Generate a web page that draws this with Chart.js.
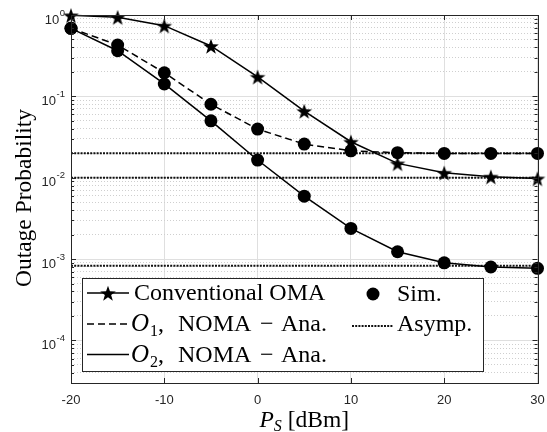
<!DOCTYPE html>
<html lang="en">
<head>
    <meta charset="UTF-8">
    <title>Outage Probability</title>
    <style>
        html, body {
            margin: 0;
            padding: 0;
            background: #fff;
        }
        #chart {
            width: 547px;
            height: 432px;
        }
    </style>
</head>
<body>
<div id="chart">
    <canvas id="myChart" width="547" height="432"></canvas>
</div>

<script src="https://cdn.jsdelivr.net/npm/chart.js"></script>
<script type="text/javascript">
    // P_S in dBm
    var psValues = [-20, -15, -10, -5, 0, 5, 10, 15, 20, 25, 30];
    // outage probabilities
    var omaValues   = [0.99, 0.94, 0.74, 0.416, 0.174, 0.066, 0.0277, 0.015, 0.0115, 0.0103, 0.0098];
    var noma1Values = [0.686, 0.428, 0.195, 0.080, 0.0396, 0.0259, 0.0214, 0.0203, 0.0199, 0.0199, 0.0199];
    var noma2Values = [0.686, 0.364, 0.142, 0.050, 0.0165, 0.00594, 0.00238, 0.00123, 0.0009, 0.0008, 0.00077];
    var asympValues = [0.02, 0.01, 0.00083];
    var xTicks = [-20, -10, 0, 10, 20, 30];
    var yDecades = [0, -1, -2, -3, -4];
    var yMin = 3e-5, yMax = 1;

    var BLACK = '#000';
    var AXIS = '#262626';

    // filled five point star for the OMA markers
    function makeStar(size, outer, inner) {
        var c = document.createElement('canvas');
        c.width = size;
        c.height = size;
        var g = c.getContext('2d');
        g.fillStyle = BLACK;
        g.beginPath();
        for (var i = 0; i < 10; i++) {
            var r = i % 2 === 0 ? outer : inner;
            var a = -Math.PI / 2 + i * Math.PI / 5;
            var px = size / 2 + r * Math.cos(a);
            var py = size / 2 + 1 + r * Math.sin(a);
            if (i === 0) g.moveTo(px, py); else g.lineTo(px, py);
        }
        g.closePath();
        g.fill();
        return c;
    }
    var star = makeStar(18, 8.2, 3.3);

    function pts(values) {
        return psValues.map(function(x, i) { return {x: x, y: values[i]}; });
    }
    function flat(v) {
        return [{x: psValues[0], y: v}, {x: psValues[psValues.length - 1], y: v}];
    }

    var datasets = [
        { label: 'Sim. O1', data: pts(noma1Values), showLine: false, pointRadius: 6.5,
          pointBackgroundColor: BLACK, pointBorderWidth: 0, clip: false },
        { label: 'Sim. O2', data: pts(noma2Values), showLine: false, pointRadius: 6.5,
          pointBackgroundColor: BLACK, pointBorderWidth: 0, clip: false },
        { label: 'Conventional OMA', data: pts(omaValues), borderColor: BLACK, borderWidth: 1.5,
          pointStyle: star, pointRadius: 8, clip: false },
        { label: 'O1 Ana', data: pts(noma1Values), borderColor: BLACK, borderWidth: 1.5,
          borderDash: [7, 4], pointRadius: 0, clip: false },
        { label: 'O2 Ana', data: pts(noma2Values), borderColor: BLACK, borderWidth: 1.5,
          pointRadius: 0, clip: false }
    ];
    asympValues.forEach(function(v) {
        datasets.push({ label: 'Asymp.', data: flat(v), borderColor: '#111', borderWidth: 2,
                        borderDash: [2, 1.2], pointRadius: 0, clip: false });
    });

    // draw text pieces one after another: [text, font, dy]
    function drawRich(ctx, parts, x, y) {
        parts.forEach(function(p) {
            ctx.font = p[1];
            ctx.fillText(p[0], x, y + (p[2] || 0));
            x += ctx.measureText(p[0]).width;
        });
        return x;
    }

    var SERIF = '"Liberation Serif", "DejaVu Serif", serif';
    var SANS = '"Liberation Sans", Arial, sans-serif';

    var matlabBox = {
        id: 'matlabBox',
        afterDraw: function(chart) {
            var ctx = chart.ctx;
            var a = chart.chartArea;
            var xs = chart.scales.x, ys = chart.scales.y;
            ctx.save();

            // axes box
            ctx.strokeStyle = AXIS;
            ctx.lineWidth = 1;
            ctx.strokeRect(Math.round(a.left) + 0.5, Math.round(a.top) + 0.5,
                           Math.round(a.right - a.left), Math.round(a.bottom - a.top));

            // inward ticks
            ctx.beginPath();
            xTicks.forEach(function(v) {
                var px = Math.round(xs.getPixelForValue(v)) + 0.5;
                ctx.moveTo(px, a.bottom); ctx.lineTo(px, a.bottom - 5);
                ctx.moveTo(px, a.top); ctx.lineTo(px, a.top + 5);
            });
            ys.ticks.forEach(function(t) {
                var py = Math.round(ys.getPixelForValue(t.value)) + 0.5;
                var len = t.major ? 5 : 3;
                ctx.moveTo(a.left, py); ctx.lineTo(a.left + len, py);
                ctx.moveTo(a.right, py); ctx.lineTo(a.right - len, py);
            });
            ctx.stroke();

            // tick labels
            ctx.fillStyle = AXIS;
            ctx.textBaseline = 'middle';
            ctx.textAlign = 'center';
            ctx.font = '13px ' + SANS;
            xTicks.forEach(function(v) {
                ctx.fillText(String(v), xs.getPixelForValue(v), a.bottom + 17);
            });
            ctx.textAlign = 'right';
            yDecades.forEach(function(e) {
                var py = ys.getPixelForValue(Math.pow(10, e));
                var sup = String(e);
                ctx.font = '9.5px ' + SANS;
                var supW = ctx.measureText(sup).width;
                ctx.fillText(sup, a.left - 6, py - 2);
                ctx.font = '13px ' + SANS;
                ctx.fillText('10', a.left - 6 - supW - 0.5, py + 5);
            });

            // axis titles
            ctx.fillStyle = BLACK;
            ctx.textBaseline = 'alphabetic';
            ctx.textAlign = 'center';
            ctx.save();
            ctx.translate(31, (a.top + a.bottom) / 2 - 1);
            ctx.rotate(-Math.PI / 2);
            ctx.font = '23.5px ' + SERIF;
            ctx.fillText('Outage Probability', 0, 0);
            ctx.restore();

            ctx.textAlign = 'left';
            var xParts = [['P', 'italic 23.5px ' + SERIF], ['S', 'italic 16px ' + SERIF, 4],
                          [' [dBm]', '23.5px ' + SERIF]];
            var w = 0;
            xParts.forEach(function(p) { ctx.font = p[1]; w += ctx.measureText(p[0]).width; });
            drawRich(ctx, xParts, (a.left + a.right) / 2 - w / 2, 427);

            // legend
            var L = 82, T = 278, R = 483, B = 371;
            ctx.fillStyle = '#fff';
            ctx.fillRect(L, T, R - L, B - T);
            ctx.strokeStyle = AXIS;
            ctx.strokeRect(L + 0.5, T + 0.5, R - L, B - T);

            ctx.strokeStyle = BLACK;
            ctx.fillStyle = BLACK;
            ctx.lineWidth = 1.5;
            // row 1: OMA
            ctx.beginPath(); ctx.moveTo(87, 293); ctx.lineTo(129, 293); ctx.stroke();
            ctx.drawImage(star, 108 - 9, 293 - 9);
            ctx.font = '24px ' + SERIF;
            ctx.fillText('Conventional OMA', 134, 300);
            // row 2: O1 dashed
            ctx.setLineDash([7, 4]);
            ctx.beginPath(); ctx.moveTo(87, 324); ctx.lineTo(129, 324); ctx.stroke();
            ctx.setLineDash([]);
            var rowParts = function(n) {
                return [['O', 'italic 25px ' + SERIF], [' ', '4px ' + SERIF], [n, '16px ' + SERIF, 5],
                        [',', '24px ' + SERIF]];
            };
            drawRich(ctx, rowParts('1'), 131, 331);
            ctx.font = '24px ' + SERIF;
            ctx.fillText('NOMA', 178, 331);
            ctx.fillText('\u2212', 260, 331);
            ctx.fillText('Ana.', 281, 331);
            // row 3: O2 solid
            ctx.beginPath(); ctx.moveTo(87, 354.5); ctx.lineTo(129, 354.5); ctx.stroke();
            drawRich(ctx, rowParts('2'), 131, 361.5);
            ctx.font = '24px ' + SERIF;
            ctx.fillText('NOMA', 178, 361.5);
            ctx.fillText('\u2212', 260, 361.5);
            ctx.fillText('Ana.', 281, 361.5);
            // column 2: Sim. / Asymp.
            ctx.beginPath(); ctx.arc(373, 294, 6.5, 0, Math.PI * 2); ctx.fill();
            ctx.fillText('Sim.', 397, 301);
            ctx.strokeStyle = '#111';
            ctx.lineWidth = 2;
            ctx.setLineDash([2, 1.2]);
            ctx.beginPath(); ctx.moveTo(352, 326); ctx.lineTo(393, 326); ctx.stroke();
            ctx.setLineDash([]);
            ctx.fillText('Asymp.', 397, 331);

            ctx.restore();
        }
    };

    var ctx = document.getElementById('myChart').getContext('2d');
    window.myChart = new Chart(ctx, {
        type: 'line',
        data: { datasets: datasets },
        options: {
            responsive: false,
            animation: false,
            layout: { padding: { top: 15, right: 4, left: 0, bottom: 0 } },
            plugins: {
                legend: { display: false },
                tooltip: { enabled: false }
            },
            elements: { line: { tension: 0 } },
            scales: {
                x: {
                    type: 'linear',
                    min: -20,
                    max: 30,
                    afterBuildTicks: function(scale) {
                        scale.ticks = xTicks.map(function(v) { return {value: v}; });
                    },
                    afterFit: function(scale) { scale.height = 49; },
                    grid: { color: '#dfdfdf', lineWidth: 1, drawTicks: false },
                    border: { display: false },
                    ticks: { display: false }
                },
                y: {
                    type: 'logarithmic',
                    min: yMin,
                    max: yMax,
                    afterBuildTicks: function(scale) {
                        var ticks = [];
                        for (var e = -5; e <= 0; e++) {
                            for (var m = 1; m <= 9; m++) {
                                var v = m * Math.pow(10, e);
                                if (v >= yMin && v <= yMax * 1.0001) ticks.push({value: v, major: m === 1});
                            }
                        }
                        scale.ticks = ticks;
                    },
                    afterFit: function(scale) { scale.width = 71; },
                    grid: {
                        drawTicks: false,
                        lineWidth: 1,
                        color: function(c) { return c.tick && c.tick.major ? '#dfdfdf' : '#cfcfcf'; }
                    },
                    border: {
                        display: false,
                        dash: function(c) { return c.tick && !c.tick.major ? [1, 2] : []; }
                    },
                    ticks: { display: false }
                }
            }
        },
        plugins: [matlabBox]
    });
</script>
</body>
</html>
